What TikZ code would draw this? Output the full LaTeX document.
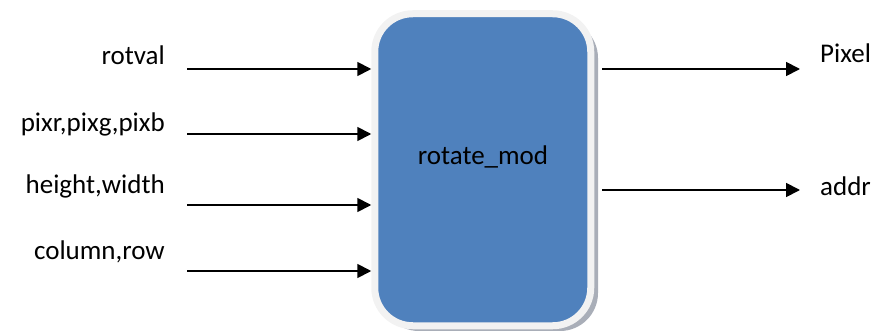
\documentclass[tikz,border=0pt]{standalone}
\usepackage{fontspec}
\setmainfont{Carlito}
\usetikzlibrary{arrows.meta,positioning}
\definecolor{modblue}{HTML}{4F81BD}
\definecolor{rimgray}{HTML}{F2F2F2}
\definecolor{shadegray}{HTML}{A9AEB8}

\begin{document}
\begin{tikzpicture}[
    x=1pt, y=-1pt,
    font=\fontsize{27}{32}\selectfont,
    module/.style={draw=rimgray, line width=7pt, fill=modblue, rounded corners=38pt, minimum width=216pt, minimum height=312pt, inner sep=0pt},
    arrow/.style={-{Triangle[length=14pt, width=14pt]}, line width=1.8pt},
    port/.style={inner sep=0pt},
]
    \useasboundingbox (0,0) rectangle (874,331);

    % shadow and block
    \fill[shadegray, rounded corners=38pt] (381,20) rectangle (598,331);
    \node[module] (mod) at (482.75,169.75) {};
    \node at (483,157) (modname) {rotate\_mod};

    % inputs
    \coordinate (rotval-in) at (187,69);
    \coordinate (pix-in) at (187,134);
    \coordinate (size-in) at (187,205);
    \coordinate (pos-in) at (187,271);
    \node[port, anchor=east] (rotval) at (165,55) {rotval};
    \node[port, anchor=east] (pix) at (165,124) {pixr,pixg,pixb};
    \node[port, anchor=east] (size) at (165,186) {height,width};
    \node[port, anchor=east] (pos) at (165,252) {column,row};
    \foreach \p in {rotval-in, pix-in, size-in, pos-in}
        \draw[arrow] (\p) -- (\p -| mod.west);

    % outputs
    \coordinate (pixel-out) at (800,69);
    \coordinate (addr-out) at (800,190);
    \node[port, anchor=west] (pixel) at (820,53) {Pixel};
    \node[port, anchor=west] (addr) at (820,186) {addr};
    \foreach \p in {pixel-out, addr-out}
        \draw[arrow, shorten <=8pt] (\p -| mod.east) -- (\p);
\end{tikzpicture}
\end{document}
